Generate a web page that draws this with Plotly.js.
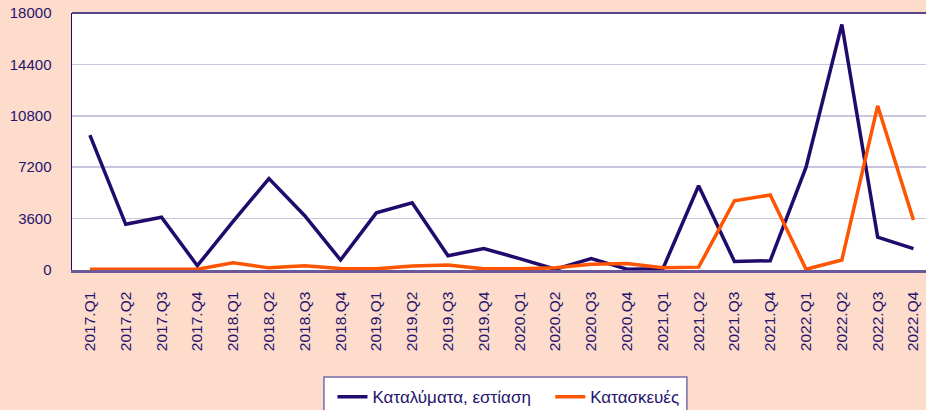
<!DOCTYPE html>
<html>
<head>
<meta charset="utf-8">
<script src="https://cdn.plot.ly/plotly-3.0.1.min.js"></script>
<style>html,body{margin:0;padding:0;background:#fddccb;}#chart{width:926px;height:410px;}</style>
</head>
<body>
<div id="chart"></div>
<script>
const quarters = ["2017.Q1","2017.Q2","2017.Q3","2017.Q4","2018.Q1","2018.Q2","2018.Q3","2018.Q4",
  "2019.Q1","2019.Q2","2019.Q3","2019.Q4","2020.Q1","2020.Q2","2020.Q3","2020.Q4",
  "2021.Q1","2021.Q2","2021.Q3","2021.Q4","2022.Q1","2022.Q2","2022.Q3","2022.Q4"];
const accommodation = [9450,3200,3700,300,3400,6400,3800,700,4000,4700,1000,1500,
  800,50,800,60,80,5900,600,650,7200,17200,2300,1500];
const construction = [50,50,50,50,500,150,300,100,80,280,350,80,
  80,150,400,450,150,200,4850,5250,50,700,11500,3500];
const yTicks = [0,3600,7200,10800,14400,18000];
const seriesNames = ["Καταλύματα, εστίαση","Κατασκευές"];

const navy = "#200b6c";
const orange = "#ff5400";
const txt = "#26146e";

const traces = [
  {x: quarters, y: accommodation, type: "scatter", mode: "lines", name: seriesNames[0],
   line: {color: navy, width: 3.5}, legend: "legend"},
  {x: quarters, y: construction, type: "scatter", mode: "lines", name: seriesNames[1],
   line: {color: orange, width: 3.5}, legend: "legend2"}
];

const legendBase = {orientation: "h", xanchor: "left", yref: "container", y: 0.075, yanchor: "top",
  bgcolor: "rgba(0,0,0,0)", borderwidth: 0, font: {size: 17, color: txt}, itemwidth: 30};

const layout = {
  width: 926, height: 410,
  paper_bgcolor: "#fddccb", plot_bgcolor: "#ffffff",
  margin: {l: 72, r: 0, t: 13, b: 140, autoexpand: false},
  font: {family: "Liberation Sans, Arial, sans-serif", color: txt, size: 15},
  showlegend: true,
  legend: Object.assign({}, legendBase, {x: 0.305}),
  legend2: Object.assign({}, legendBase, {x: 0.56}),
  xaxis: {type: "category", range: [-0.5, 23.35], tickangle: -90,
    showgrid: false, showline: true, linecolor: "#6a5a9c", linewidth: 2.5,
    ticks: "outside", ticklen: 13, tickcolor: "rgba(0,0,0,0)",
    tickfont: {size: 15.5, color: txt}, zeroline: false, fixedrange: true, automargin: false},
  yaxis: {range: [0, 18000], tickvals: yTicks, ticktext: yTicks.map(String),
    showgrid: true, gridcolor: "#c9c5de", gridwidth: 1.5,
    showline: true, linecolor: navy, linewidth: 1.5,
    ticks: "outside", ticklen: 16, tickcolor: "rgba(0,0,0,0)",
    tickfont: {size: 15, color: txt}, zeroline: false, fixedrange: true, automargin: false},
  shapes: [
    {type: "line", xref: "paper", yref: "paper", x0: 0, x1: 1, y0: 1, y1: 1,
     line: {color: navy, width: 1.5}},
    {type: "rect", xref: "paper", yref: "paper", x0: 0.295, x1: 0.72, y0: -0.416, y1: -0.6,
     fillcolor: "#ffffff", line: {color: "#7a6aaa", width: 1.5}, layer: "below"}
  ]
};

Plotly.newPlot("chart", traces, layout, {displayModeBar: false, staticPlot: true});
</script>
</body>
</html>
